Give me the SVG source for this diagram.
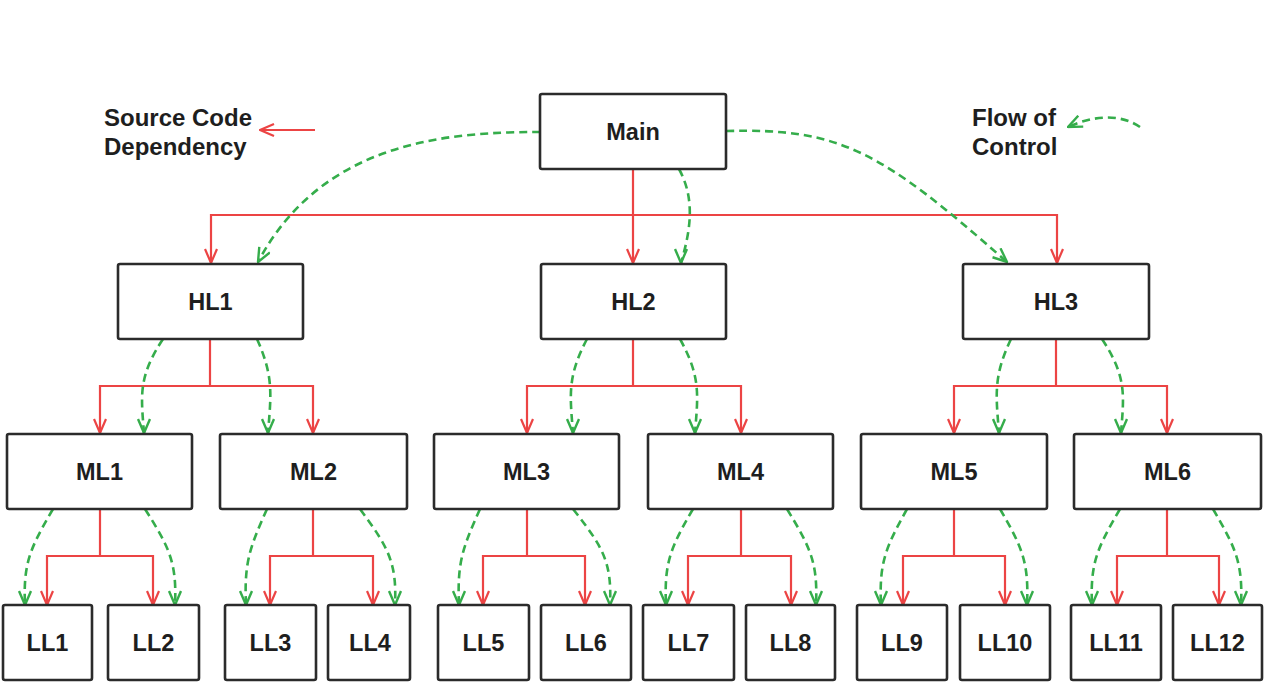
<svg xmlns="http://www.w3.org/2000/svg" width="1264" height="696" viewBox="0 0 1264 696">
<style>
.box{fill:#fff;stroke:#2b2b2b;stroke-width:2.6}
.lbl{font-family:"Liberation Sans",Arial,sans-serif;font-weight:bold;font-size:23.5px;fill:#1e1e1e;text-anchor:middle}
.leg{font-family:"Liberation Sans",Arial,sans-serif;font-weight:bold;font-size:24px;fill:#1e1e1e}
.dep{fill:none;stroke:#ec4444;stroke-width:2.2;marker-end:url(#ar)}
.flow{fill:none;stroke:#35ad4b;stroke-width:2.6;stroke-dasharray:8 5;marker-end:url(#ag)}
.flowd{fill:none;stroke:#35ad4b;stroke-width:2.6;stroke-dasharray:8 5;marker-end:url(#agd)}
</style>
<defs>
<marker id="ar" markerUnits="userSpaceOnUse" markerWidth="16" markerHeight="14" viewBox="0 0 16 14" refX="15" refY="7" orient="auto"><path d="M1,1 L15,7 L1,13" fill="none" stroke="#ec4444" stroke-width="2.2"/></marker>
<marker id="ag" markerUnits="userSpaceOnUse" markerWidth="16" markerHeight="14" viewBox="0 0 16 14" refX="15" refY="7" orient="auto"><path d="M1,1 L15,7 L1,13" fill="none" stroke="#35ad4b" stroke-width="2.4"/></marker>
<marker id="agd" markerUnits="userSpaceOnUse" markerWidth="16" markerHeight="14" viewBox="0 0 16 14" refX="15" refY="7" orient="90"><path d="M1,1 L15,7 L1,13" fill="none" stroke="#35ad4b" stroke-width="2.4"/></marker>
</defs>
<rect width="1264" height="696" fill="#fff"/>

<g id="legend">
<text class="leg" x="104" y="126">Source Code</text>
<text class="leg" x="104" y="155">Dependency</text>
<path class="dep" d="M315,130 H260"/>
<text class="leg" x="972" y="126">Flow of</text>
<text class="leg" x="972" y="155">Control</text>
<path class="flow" d="M1140,127 C1118,112 1090,117 1068,127"/>
</g>

<g id="connectors">
<path class="dep" d="M633,169 V263"/>
<path class="dep" d="M633,215 H211 V263"/>
<path class="dep" d="M633,215 H1057 V263"/>
<path class="dep" d="M210,339 V386 H100 V433"/>
<path class="dep" d="M210,386 H313 V433"/>
<path class="dep" d="M633,339 V386 H527 V433"/>
<path class="dep" d="M633,386 H741 V433"/>
<path class="dep" d="M1056,339 V386 H954 V433"/>
<path class="dep" d="M1056,386 H1167 V433"/>
<path class="dep" d="M100,509 V556 H47 V605"/>
<path class="dep" d="M100,556 H153 V605"/>
<path class="dep" d="M313,509 V556 H270 V605"/>
<path class="dep" d="M313,556 H373 V605"/>
<path class="dep" d="M527,509 V556 H483 V605"/>
<path class="dep" d="M527,556 H585 V605"/>
<path class="dep" d="M741,509 V556 H688 V605"/>
<path class="dep" d="M741,556 H791 V605"/>
<path class="dep" d="M954,509 V556 H903 V605"/>
<path class="dep" d="M954,556 H1005 V605"/>
<path class="dep" d="M1167,509 V556 H1117 V605"/>
<path class="dep" d="M1167,556 H1219 V605"/>
<path class="flow" d="M540,132 C445,132 322,142 258,262"/>
<path class="flow" d="M726,131 C840,128 880,150 1007,262"/>
<path class="flowd" d="M679,169 C696,200 690,232 681,263"/>
<path class="flowd" d="M163,339 C138,377 141,395 144,433"/>
<path class="flowd" d="M257,339 C274,377 271,395 268,433"/>
<path class="flowd" d="M587,339 C567,377 570,395 573,433"/>
<path class="flowd" d="M680,339 C701,377 698,395 695,433"/>
<path class="flowd" d="M1011,339 C993,377 996,395 999,433"/>
<path class="flowd" d="M1102,339 C1127,377 1124,395 1121,433"/>
<path class="flowd" d="M53,509 C31,547 23,562 25,605"/>
<path class="flowd" d="M145,509 C169,547 177,562 175,605"/>
<path class="flowd" d="M267,509 C250,547 244,562 246,605"/>
<path class="flowd" d="M360,509 C388,547 397,562 395,605"/>
<path class="flowd" d="M480,509 C463,547 457,562 459,605"/>
<path class="flowd" d="M573,509 C603,547 612,562 610,605"/>
<path class="flowd" d="M693,509 C671,547 664,562 666,605"/>
<path class="flowd" d="M787,509 C810,547 818,562 816,605"/>
<path class="flowd" d="M907,509 C886,547 879,562 881,605"/>
<path class="flowd" d="M1000,509 C1022,547 1029,562 1027,605"/>
<path class="flowd" d="M1120,509 C1098,547 1090,562 1092,605"/>
<path class="flowd" d="M1213,509 C1235,547 1243,562 1241,605"/>
</g>

<g id="main"><rect class="box" x="540" y="94" width="186" height="75" rx="2"/><text class="lbl" x="633" y="140">Main</text></g>
<g id="hl1"><rect class="box" x="118" y="264" width="185" height="75" rx="2"/><text class="lbl" x="210.5" y="310">HL1</text></g>
<g id="hl2"><rect class="box" x="541" y="264" width="185" height="75" rx="2"/><text class="lbl" x="633.5" y="310">HL2</text></g>
<g id="hl3"><rect class="box" x="963" y="264" width="186" height="75" rx="2"/><text class="lbl" x="1056" y="310">HL3</text></g>
<g id="ml1"><rect class="box" x="7" y="434" width="185" height="75" rx="2"/><text class="lbl" x="99.5" y="480">ML1</text></g>
<g id="ml2"><rect class="box" x="220" y="434" width="187" height="75" rx="2"/><text class="lbl" x="313.5" y="480">ML2</text></g>
<g id="ml3"><rect class="box" x="434" y="434" width="185" height="75" rx="2"/><text class="lbl" x="526.5" y="480">ML3</text></g>
<g id="ml4"><rect class="box" x="648" y="434" width="185" height="75" rx="2"/><text class="lbl" x="740.5" y="480">ML4</text></g>
<g id="ml5"><rect class="box" x="861" y="434" width="186" height="75" rx="2"/><text class="lbl" x="954" y="480">ML5</text></g>
<g id="ml6"><rect class="box" x="1074" y="434" width="187" height="75" rx="2"/><text class="lbl" x="1167.5" y="480">ML6</text></g>
<g id="ll1"><rect class="box" x="3" y="605" width="89" height="75" rx="2"/><text class="lbl" x="47.5" y="651">LL1</text></g>
<g id="ll2"><rect class="box" x="108" y="605" width="91" height="75" rx="2"/><text class="lbl" x="153.5" y="651">LL2</text></g>
<g id="ll3"><rect class="box" x="225" y="605" width="91" height="75" rx="2"/><text class="lbl" x="270.5" y="651">LL3</text></g>
<g id="ll4"><rect class="box" x="328" y="605" width="82" height="75" rx="2"/><text class="lbl" x="370" y="651">LL4</text></g>
<g id="ll5"><rect class="box" x="438" y="605" width="91" height="75" rx="2"/><text class="lbl" x="483.5" y="651">LL5</text></g>
<g id="ll6"><rect class="box" x="541" y="605" width="90" height="75" rx="2"/><text class="lbl" x="586" y="651">LL6</text></g>
<g id="ll7"><rect class="box" x="643" y="605" width="91" height="75" rx="2"/><text class="lbl" x="688.5" y="651">LL7</text></g>
<g id="ll8"><rect class="box" x="746" y="605" width="89" height="75" rx="2"/><text class="lbl" x="790.5" y="651">LL8</text></g>
<g id="ll9"><rect class="box" x="857" y="605" width="90" height="75" rx="2"/><text class="lbl" x="902" y="651">LL9</text></g>
<g id="ll10"><rect class="box" x="960" y="605" width="90" height="75" rx="2"/><text class="lbl" x="1005" y="651">LL10</text></g>
<g id="ll11"><rect class="box" x="1071" y="605" width="90" height="75" rx="2"/><text class="lbl" x="1116" y="651">LL11</text></g>
<g id="ll12"><rect class="box" x="1173" y="605" width="89" height="75" rx="2"/><text class="lbl" x="1217.5" y="651">LL12</text></g>
</svg>
